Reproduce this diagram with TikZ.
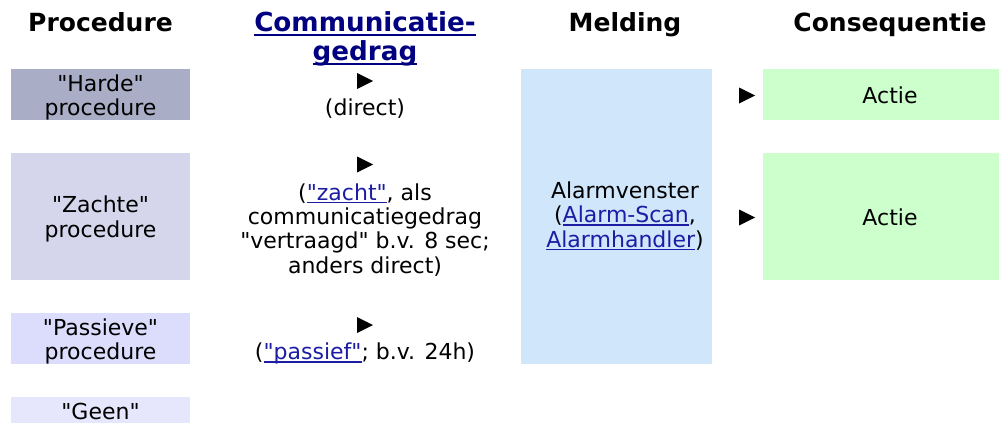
\documentclass[tikz,border=0pt]{standalone}
\usepackage{fontspec}
\newfontfamily\dv{DejaVu Sans}
\definecolor{cHarde}{HTML}{AAADC6}
\definecolor{cZachte}{HTML}{D5D6EC}
\definecolor{cPass}{HTML}{DCDCFC}
\definecolor{cGeen}{HTML}{E6E6FC}
\definecolor{cMeld}{HTML}{D0E6FA}
\definecolor{cActie}{HTML}{CCFFCC}
\definecolor{linkc}{HTML}{1C1CA4}
\definecolor{hdrlink}{HTML}{000080}
\newsavebox{\lnkbox}
\newcommand\lnk[1]{{\color{linkc}\sbox{\lnkbox}{#1}\rlap{\rule[-3pt]{\wd\lnkbox}{1.5pt}}\usebox{\lnkbox}}}
\newcommand\hlnk[1]{{\color{hdrlink}\sbox{\lnkbox}{#1}\rlap{\rule[-4.5pt]{\wd\lnkbox}{2pt}}\usebox{\lnkbox}}}
\newcommand\arrowtri[2]{\fill ({#1-8},{#2-8}) -- ({#1+8},{#2}) -- ({#1-8},{#2+8}) -- cycle;}
\begin{document}
\begin{tikzpicture}[x=1pt,y=-1pt,
  cell/.style={draw=none,inner sep=0pt,outer sep=0pt},
  txt/.style={align=center,inner sep=0pt,anchor=base,font=\dv\fontsize{22}{24.3}\selectfont},
  hdr/.style={align=center,inner sep=0pt,anchor=base,font=\dv\fontsize{25}{29}\selectfont\bfseries}]
\useasboundingbox (0,0) rectangle (999,423);
% boxes
\node[cell,fill=cHarde,minimum width=179pt,minimum height=51pt] (hardebox) at (100.5,94.5) {};
\node[cell,fill=cZachte,minimum width=179pt,minimum height=127pt] (zachtebox) at (100.5,216.5) {};
\node[cell,fill=cPass,minimum width=179pt,minimum height=51pt] (passbox) at (100.5,338.5) {};
\node[cell,fill=cGeen,minimum width=179pt,minimum height=26pt] (geenbox) at (100.5,410) {};
\node[cell,fill=cMeld,minimum width=191pt,minimum height=295pt] (meldbox) at (616.5,216.5) {};
\node[cell,fill=cActie,minimum width=236pt,minimum height=51pt] (actie1box) at (881,94.5) {};
\node[cell,fill=cActie,minimum width=236pt,minimum height=127pt] (actie2box) at (881,216.5) {};
% headers (anchor base = baseline of last line)
\node[hdr] (hproc) at (100.5,31) {Procedure};
\node[hdr,font=\dv\fontsize{26.2}{29}\selectfont\bfseries] (hcomm) at (365,60) {\hlnk{Communicatie-}\\\hlnk{gedrag}};
\node[hdr] (hmeld) at (625,31) {Melding};
\node[hdr] (hcons) at (890,31) {Consequentie};
% procedure texts
\node[txt] (tharde) at (100.5,115.5) {"Harde"\\procedure};
\node[txt] (tzachte) at (100.5,237) {"Zachte"\\procedure};
\node[txt] (tpass) at (100.5,359.5) {"Passieve"\\procedure};
\node[txt] (tgeen) at (100.5,419.5) {"Geen"};
% communication texts
\node[txt] (cdirect) at (365,115.5) {(direct)};
\node[txt] (czacht) at (365,273) {(\lnk{"zacht"}, als\\communicatiegedrag\\"vertraagd" b.v. 8 sec;\\anders direct)};
\node[txt] (cpass) at (365,359.5) {(\lnk{"passief"}; b.v. 24h)};
% melding
\node[txt] (tmeld) at (625,247.1) {Alarmvenster\\(\lnk{Alarm-Scan},\\\lnk{Alarmhandler})};
% actie
\node[txt] (tactie1) at (890,103) {Actie};
\node[txt] (tactie2) at (890,225) {Actie};
% triangles
\arrowtri{365}{81}
\arrowtri{365}{164.5}
\arrowtri{365}{325}
\arrowtri{747}{95.5}
\arrowtri{747}{217.5}
\end{tikzpicture}
\end{document}
